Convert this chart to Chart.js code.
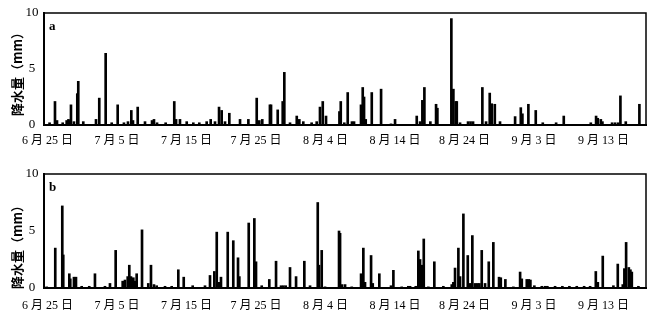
<!DOCTYPE html>
<html>
<head>
<meta charset="utf-8">
<script src="https://cdn.jsdelivr.net/npm/chart.js@4.4.1/dist/chart.umd.min.js"></script>
<style>
  html, body { margin: 0; padding: 0; background: #fff; }
  #wrap { position: relative; width: 655px; height: 310px; }
  canvas { position: absolute; left: 0; }
</style>
</head>
<body>
<div id="wrap">
  <canvas id="chartA" width="655" height="150" style="top:0"></canvas>
  <canvas id="chartB" width="655" height="150" style="top:160px"></canvas>
</div>
<script>
// days counted from 6/25
const tickDays = [0, 10, 20, 30, 40, 50, 60, 70, 80];
const tickLabels = ["6 月 25 日", "7 月 5 日", "7 月 15 日", "7 月 25 日", "8 月 4 日",
  "8 月 14 日", "8 月 24 日", "9 月 3 日", "9 月 13 日"];

const daysA = [0.3, 1.08, 1.37, 2.19, 2.76, 3.02, 3.24, 3.38, 3.81, 4.29,
  4.43, 5.15, 6.98, 7.45, 8.37, 9.24, 10.1, 11.0, 11.58, 12.06,
  12.3, 12.98, 14.03, 15.04, 15.32, 15.76, 17.0, 18.24, 18.5, 19.06,
  20.03, 20.98, 21.84, 22.9, 23.48, 24.1, 24.68, 25.06, 25.54, 26.16,
  27.7, 28.9, 30.1, 30.47, 30.9, 32.0, 32.16, 33.12, 33.84, 34.07,
  34.89, 35.86, 36.23, 36.8, 38.0, 38.73, 39.2, 39.6, 40.07, 42.0,
  42.19, 42.7, 43.19, 43.8, 44.1, 45.1, 45.35, 45.54, 45.78, 46.65,
  47.99, 49.42, 50.0, 53.12, 53.6, 53.93, 54.22, 55.08, 55.9, 56.09,
  58.1, 58.39, 58.73, 58.88, 59.35, 60.5, 60.86, 61.22, 62.56, 63.09,
  63.62, 63.91, 64.35, 65.1, 67.27, 68.09, 68.32, 69.18, 70.24, 71.25,
  73.17, 74.27, 78.16, 78.92, 79.16, 79.6, 79.83, 81.22, 81.65, 82.09,
  82.42, 83.19, 85.15];
const rainA = [0.2, 2.1, 0.4, 0.2, 0.4, 0.5, 0.4, 1.8, 0.3, 2.8,
  3.9, 0.3, 0.5, 2.4, 6.4, 0.2, 1.8, 0.2, 0.3, 1.3,
  0.4, 1.6, 0.3, 0.4, 0.5, 0.2, 0.2, 2.1, 0.5, 0.5,
  0.3, 0.2, 0.2, 0.3, 0.5, 0.3, 1.6, 1.3, 0.3, 1.05,
  0.5, 0.5, 2.4, 0.4, 0.5, 1.8, 1.8, 1.35, 2.1, 4.7,
  0.2, 0.8, 0.5, 0.3, 0.2, 0.3, 1.6, 2.1, 0.8, 1.2,
  2.1, 0.2, 2.9, 0.3, 0.3, 1.8, 3.35, 2.5, 0.5, 2.9,
  3.2, 0.1, 0.5, 0.8, 0.3, 2.2, 3.35, 0.3, 1.85, 1.5,
  9.5, 3.2, 2.1, 2.1, 0.2, 0.3, 0.3, 0.3, 3.35, 0.3,
  2.85, 1.9, 1.85, 0.3, 0.75, 1.55, 1.0, 1.85, 1.3, 0.2,
  0.2, 0.8, 0.2, 0.8, 0.6, 0.5, 0.3, 0.2, 0.2, 0.2,
  2.6, 0.3, 1.85];

const daysB = [-0.12, 1.12, 2.13, 2.27, 3.14, 3.28, 3.81, 4.1, 4.92, 6.01,
  6.83, 8.27, 8.99, 9.81, 10.82, 11.15, 11.54, 11.77, 12.01, 12.35,
  12.59, 12.83, 13.6, 14.5, 14.89, 15.32, 15.71, 16.91, 17.87, 18.82,
  19.6, 20.89, 22.66, 23.38, 24.0, 24.35, 24.63, 24.96, 25.93, 26.73,
  27.41, 27.6, 28.95, 29.76, 30.0, 30.82, 31.91, 32.88, 33.6, 33.93,
  34.27, 34.89, 35.76, 36.95, 37.77, 38.88, 39.06, 39.45, 39.93, 41.94,
  42.09, 42.37, 42.81, 43.77, 45.11, 45.44, 45.68, 46.55, 46.79, 47.74,
  49.42, 49.76, 50.96, 51.91, 52.16, 52.98, 53.35, 53.6, 53.84, 54.13,
  54.79, 55.65, 56.95, 58.16, 58.39, 58.63, 59.11, 59.35, 59.83, 60.46,
  60.65, 60.94, 61.12, 61.51, 61.84, 62.13, 62.47, 62.95, 63.48, 64.14,
  64.96, 65.21, 65.87, 67.02, 67.99, 68.23, 68.95, 69.24, 69.47, 70.04,
  71.11, 71.58, 71.91, 73.02, 74.07, 75.08, 76.14, 77.2, 78.06, 78.88,
  79.17, 79.88, 81.41, 82.04, 82.76, 82.99, 83.24, 83.63, 83.86, 84.06,
  85.01];
const rainB = [0.1, 3.5, 7.2, 2.9, 1.25, 0.8, 0.95, 0.95, 0.15, 0.15,
  1.25, 0.15, 0.4, 3.3, 0.6, 0.7, 1.0, 2.0, 1.0, 0.9,
  0.6, 1.25, 5.1, 0.4, 2.0, 0.3, 0.2, 0.15, 0.15, 1.6,
  0.95, 0.2, 0.2, 1.1, 1.45, 4.9, 0.5, 0.95, 4.9, 4.15,
  2.65, 1.0, 5.7, 6.1, 2.3, 0.2, 0.75, 2.35, 0.2, 0.2,
  0.2, 1.8, 1.0, 2.35, 0.2, 7.5, 2.0, 3.3, 0.1, 5.0,
  4.8, 0.3, 0.3, 0.1, 1.25, 3.5, 0.5, 2.85, 0.4, 1.25,
  0.2, 1.55, 0.1, 0.15, 0.15, 0.15, 3.25, 2.5, 2.0, 4.3,
  0.1, 2.3, 0.15, 0.3, 0.5, 1.75, 3.5, 1.0, 6.5, 2.85,
  0.4, 0.4, 4.6, 0.4, 0.4, 0.4, 3.3, 0.4, 2.3, 4.0,
  0.95, 0.9, 0.75, 0.1, 1.4, 0.8, 0.75, 0.75, 0.7, 0.2,
  0.15, 0.15, 0.15, 0.15, 0.15, 0.15, 0.15, 0.15, 0.15, 1.45,
  0.5, 2.8, 0.2, 2.1, 0.3, 1.7, 4.0, 1.8, 1.6, 1.4,
  0.15];

const SERIF = "'Liberation Serif', 'Noto Sans CJK SC', serif";

// frame, panel letter, y tick labels and rotated y title
const panelDecor = {
  id: "panelDecor",
  afterDraw(chart, args, opts) {
    const { ctx, chartArea: a } = chart;
    const yScale = chart.scales.y;
    ctx.save();
    ctx.strokeStyle = "#000";
    ctx.lineWidth = 1.5;
    ctx.strokeRect(a.left, a.top, a.right - a.left, a.bottom - a.top);

    ctx.fillStyle = "#000";
    ctx.font = "bold 13px " + SERIF;
    ctx.textBaseline = "alphabetic";
    ctx.fillText(opts.letter, a.left + 5, a.top + 17);

    // y tick labels, centred in the gap left of the axis
    ctx.font = "13px " + SERIF;
    ctx.textAlign = "center";
    ctx.textBaseline = "middle";
    yScale.ticks.forEach((t) => {
      ctx.fillText(String(t.value), a.left - 12, yScale.getPixelForValue(t.value));
    });

    ctx.translate(17, (a.top + a.bottom) / 2 + opts.titleShift);
    ctx.rotate(-Math.PI / 2);
    ctx.font = "bold 13px 'Noto Sans CJK SC', sans-serif";
    ctx.fillText("降水量（mm）", 0, 0);
    ctx.restore();
  },
};

function makeChart(id, days, rain, letter, padTop, axisHeight, labelPad, titleShift) {
  return new Chart(document.getElementById(id), {
    type: "bar",
    data: {
      datasets: [
        {
          data: rain.map((v, i) => ({ x: days[i], y: v })),
          backgroundColor: "#000",
          borderWidth: 0,
          barThickness: 2,
        },
      ],
    },
    options: {
      responsive: false,
      animation: false,
      layout: { padding: { top: padTop, right: 9, left: 0, bottom: 0 } },
      plugins: {
        legend: { display: false },
        tooltip: { enabled: false },
        panelDecor: { letter, titleShift },
      },
      scales: {
        x: {
          type: "linear",
          offset: false,
          min: -0.5,
          max: 86.1,
          grid: { display: false },
          border: { display: true, color: "#000", width: 2 },
          afterBuildTicks: (s) => {
            s.ticks = tickDays.map((v) => ({ value: v }));
          },
          afterFit: (s) => {
            s.height = axisHeight;
          },
          ticks: {
            autoSkip: false,
            maxRotation: 0,
            padding: labelPad,
            color: "#000",
            font: { family: SERIF, size: 12 },
            callback: (v, i) => tickLabels[i],
          },
        },
        y: {
          min: 0,
          max: 10,
          grid: { display: false },
          border: { display: true, color: "#000", width: 2 },
          afterFit: (s) => {
            s.width = 44;
          },
          ticks: {
            stepSize: 5,
            display: false,
          },
        },
      },
    },
    plugins: [panelDecor],
  });
}

makeChart("chartA", daysA, rainA, "a", 13, 25, 1, 2);
makeChart("chartB", daysB, rainB, "b", 14, 22, 3, 13);
</script>
</body>
</html>
